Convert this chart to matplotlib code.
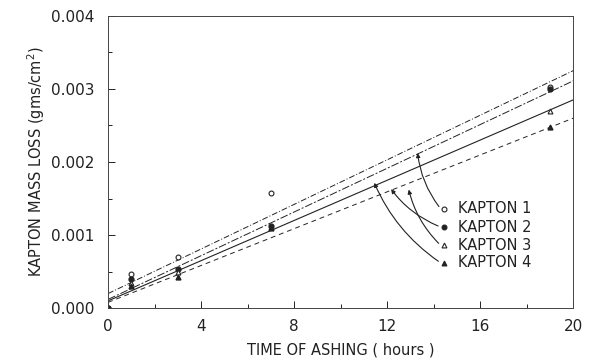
import numpy as np
import matplotlib.pyplot as plt
from matplotlib.ticker import MultipleLocator

# measured times (hours)
t = [0, 1, 3, 7, 19]
k1 = [0.0, 0.00047, 0.00070, 0.00157, 0.00302]
k2 = [0.0, 0.00040, 0.00053, 0.00113, 0.00300]
k3 = [0.0, 0.00035, 0.00050, 0.00111, 0.00270]
k4 = [0.0, 0.00030, 0.00043, 0.00110, 0.00248]

# fitted lines: intercept, value at t = 20
fit_t = [0, 20]
fit1 = [0.00020, 0.00325]
fit2 = [0.00012, 0.00311]
fit3 = [0.00010, 0.00285]
fit4 = [0.00008, 0.00260]

labels = ['KAPTON 1', 'KAPTON 2', 'KAPTON 3', 'KAPTON 4']
# where each label's arrow lands on its line
arrow_pts = [(13.3, 0.00216), (12.1, 0.00166), (12.9, 0.00166), (11.4, 0.00175)]

ink = '#222222'
plt.rcParams['font.family'] = 'DejaVu Sans'

fig = plt.figure(figsize=(5.94, 3.6), dpi=100)
ax = fig.add_axes([0.182, 0.144, 0.783, 0.812])

ax.plot(fit_t, fit1, color=ink, lw=0.7, dashes=(6, 2, 1, 2))
ax.plot(fit_t, fit2, color=ink, lw=0.7, dashes=(8, 2, 2, 2))
ax.plot(fit_t, fit3, color=ink, lw=0.8)
ax.plot(fit_t, fit4, color=ink, lw=0.7, dashes=(5, 4))

ax.plot(t, k1, 'o', mfc='white', mec=ink, ms=3.5, mew=0.8)
ax.plot(t, k2, 'o', mfc=ink, mec=ink, ms=3.5)
ax.plot(t, k3, '^', mfc='white', mec=ink, ms=3.5, mew=0.8)
ax.plot(t, k4, '^', mfc=ink, mec=ink, ms=3.5)

# legend drawn as labelled markers with curved arrows to the lines
mk = [dict(marker='o', mfc='white'), dict(marker='o', mfc=ink),
      dict(marker='^', mfc='white'), dict(marker='^', mfc=ink)]
leg_y = [0.00136, 0.00111, 0.00086, 0.00062]
for lab, y, m, (ax_t, ax_y) in zip(labels, leg_y, mk, arrow_pts):
    ax.plot(14.45, y, ls='none', mec=ink, ms=3.5, mew=0.8, **m)
    ax.text(15.05, y, lab, fontsize=10.5, color=ink, va='center', ha='left')
    ax.annotate('', xy=(ax_t, ax_y), xytext=(14.3, y),
                arrowprops=dict(arrowstyle='-|>', color=ink, lw=0.8,
                                mutation_scale=6,
                                connectionstyle='arc3,rad=-0.15'))

ax.set_xlim(0, 20)
ax.set_ylim(0, 0.004)
ax.xaxis.set_major_locator(MultipleLocator(4))
ax.xaxis.set_minor_locator(MultipleLocator(2))
ax.yaxis.set_minor_locator(MultipleLocator(0.0005))
ax.set_yticks(np.arange(0, 0.0041, 0.001))
ax.set_yticklabels(['%.3f' % v for v in np.arange(0, 0.0041, 0.001)])
ax.tick_params(which='both', direction='in', colors=ink, labelsize=11)
ax.tick_params(which='major', length=5, width=0.7)
ax.tick_params(which='minor', length=3, width=0.7)
ax.tick_params(axis='x', pad=8)
ax.tick_params(axis='y', pad=10)
for s in ax.spines.values():
    s.set_linewidth(0.7)
    s.set_color('#444444')

ax.set_xlabel('TIME OF ASHING ( hours )', fontsize=10.5, color=ink, labelpad=6)
ax.set_ylabel('KAPTON MASS LOSS (gms/cm$^2$)', fontsize=10.5, color=ink, labelpad=3)

fig.savefig('out.png', dpi=100)
